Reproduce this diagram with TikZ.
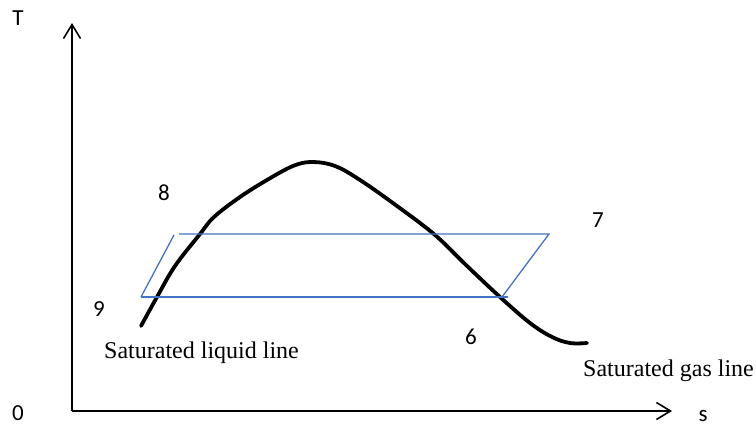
\documentclass[tikz,border=0pt]{standalone}
\usepackage{fontspec}
\setmainfont{Liberation Serif}
\newfontfamily\calfont{Carlito}
\usetikzlibrary{arrows.meta}
\definecolor{msblue}{RGB}{68,114,196}
\tikzset{
  axisline/.style={line width=1.6pt, -{Straight Barb[length=14pt,width=17pt,line width=1.6pt]}},
  satcurve/.style={line width=3.8pt, line cap=round},
  cycleline/.style={msblue, line width=1.3pt},
  numlabel/.style={inner sep=0pt, anchor=base, font=\calfont\fontsize{23}{25}\selectfont},
  serlabel/.style={inner sep=0pt, anchor=base west, font=\fontsize{24}{26}\selectfont}
}
\begin{document}
\begin{tikzpicture}[x=1pt,y=-1pt]
\useasboundingbox (0,0) rectangle (756,428);
\coordinate (O) at (72,411);
\coordinate (Ttip) at (72,23);
\coordinate (Stip) at (672,411);
\draw[axisline] (O) -- (Ttip);
\draw[axisline] (O) -- (Stip);
\node[numlabel] (T) at (18,26) {T};
\node[numlabel] (zero) at (18,420) {0};
\node[numlabel] (s) at (703,421) {s};
% saturation curve
\draw[satcurve] plot[smooth, tension=0.6] coordinates {(141,326) (157,297) (175,266) (200,234) (214,217) (240,197) (267,180) (293,166) (312,162) (335,166) (360,180) (397,206) (435,235) (466,265) (500,297) (530,323) (552,337) (570,343) (587,343)};
% cycle
\coordinate (c9) at (141,297);
\coordinate (c8) at (174,235);
\coordinate (c8b) at (179,234);
\coordinate (c7) at (549,234);
\coordinate (c6) at (502,297);
\coordinate (c6b) at (508,297);
\draw[cycleline] (c9) -- (c8);
\draw[cycleline] (c8b) -- (c7) -- (c6);
\draw[cycleline] (c9) -- (c6b);
\node[numlabel] (l8) at (164,200) {8};
\node[numlabel] (l7) at (598,227) {7};
\node[numlabel] (l9) at (99,316) {9};
\node[numlabel] (l6) at (471,344) {6};
\node[serlabel] (liq) at (104,358) {Saturated liquid line};
\node[serlabel] (gas) at (583,376) {Saturated gas line};
\end{tikzpicture}
\end{document}
